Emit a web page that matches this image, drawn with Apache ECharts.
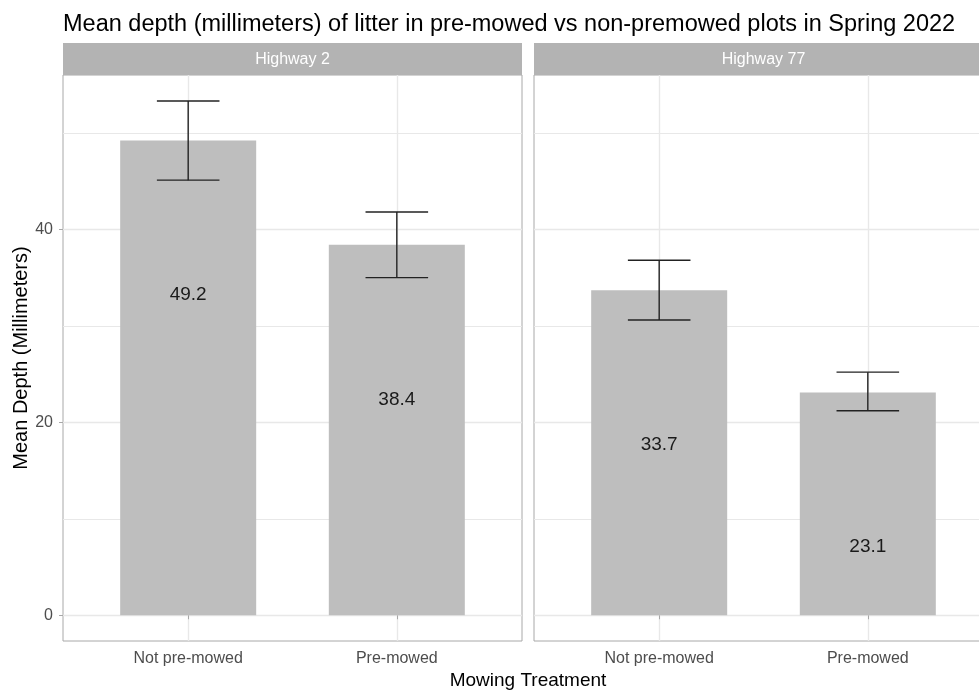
<!DOCTYPE html>
<html>
<head>
<meta charset="utf-8">
<script src="https://cdn.jsdelivr.net/npm/echarts@6/dist/echarts.min.js"></script>
<style>
  html, body { margin: 0; padding: 0; background: #fff; }
  #chart { width: 979px; height: 692px; }
</style>
</head>
<body>
<div id="chart"></div>
<script>
// Data
const panels = ['Highway 2', 'Highway 77'];
const treatments = ['Not pre-mowed', 'Pre-mowed'];
const hwy2Mean = [49.2, 38.4];
const hwy2Lower = [45.1, 35.0];
const hwy2Upper = [53.3, 41.8];
const hwy77Mean = [33.7, 23.1];
const hwy77Lower = [30.6, 21.2];
const hwy77Upper = [36.8, 25.2];
const yMajorTicks = [0, 20, 40];
const yMinorTicks = [10, 30, 50];

const font = 'Liberation Sans, Arial, sans-serif';
const borderColor = '#a8a8a8';
const gridColor = '#e8e8e8';

const panelData = [
    { mean: hwy2Mean, lower: hwy2Lower, upper: hwy2Upper },
    { mean: hwy77Mean, lower: hwy77Lower, upper: hwy77Upper }
];

const gridLeft = [63, 534];
const gridWidth = 459;
const gridTop = 75;
const gridHeight = 566;

function renderErrorBar(params, api) {
    const x = api.value(0);
    const lo = api.coord([x, api.value(1)]);
    const hi = api.coord([x, api.value(2)]);
    const half = api.size([0.3, 0])[0] / 2;
    const style = { stroke: '#222', lineWidth: 1.4 };
    return {
        type: 'group',
        children: [
            { type: 'line', shape: { x1: lo[0], y1: hi[1], x2: lo[0], y2: lo[1] }, style: style },
            { type: 'line', shape: { x1: lo[0] - half, y1: hi[1], x2: lo[0] + half, y2: hi[1] }, style: style },
            { type: 'line', shape: { x1: lo[0] - half, y1: lo[1], x2: lo[0] + half, y2: lo[1] }, style: style }
        ]
    };
}

let grids = [];
let xAxes = [];
let yAxes = [];
let series = [];
let graphics = [];

for (let i = 0; i < panels.length; i++) {
    grids.push({
        left: gridLeft[i], top: gridTop, width: gridWidth, height: gridHeight,
        outerBoundsMode: 'none',
        containLabel: false,
        show: true, borderColor: borderColor, borderWidth: 1,
        backgroundColor: 'transparent'
    });

    xAxes.push({
        type: 'value', gridIndex: i, min: 0.4, max: 2.6,
        axisLine: { show: false },
        axisTick: { show: true, customValues: [1, 2], length: 4, lineStyle: { color: borderColor } },
        axisLabel: {
            customValues: [1, 2],
            formatter: v => treatments[Math.round(v) - 1],
            fontSize: 16, color: '#4d4d4d', fontFamily: font, margin: 10
        },
        splitLine: { show: true, lineStyle: { color: gridColor, width: 1.4 } }
    });

    // major ticks / labels
    yAxes.push({
        type: 'value', gridIndex: i, min: -2.67, max: 56.0, position: 'left',
        axisLine: { show: false },
        axisTick: { show: i === 0, customValues: yMajorTicks, length: 4, lineStyle: { color: borderColor } },
        axisLabel: { show: i === 0, customValues: yMajorTicks, fontSize: 16, color: '#4d4d4d', fontFamily: font, margin: 10 },
        splitLine: { show: true, lineStyle: { color: gridColor, width: 1.4 } },
        name: i === 0 ? 'Mean Depth (Millimeters)' : '',
        nameLocation: 'middle',
        nameGap: 30,
        nameTextStyle: { fontSize: 20, color: '#000', fontFamily: font }
    });
    // minor grid lines
    yAxes.push({
        type: 'value', gridIndex: i, min: -2.67, max: 56.0, position: 'left',
        axisLine: { show: false },
        axisTick: { show: false, customValues: yMinorTicks },
        axisLabel: { show: false, customValues: yMinorTicks },
        splitLine: { show: true, lineStyle: { color: gridColor, width: 1 } }
    });

    const d = panelData[i];
    series.push({
        name: panels[i],
        type: 'bar',
        xAxisIndex: i,
        yAxisIndex: i * 2,
        barWidth: 136,
        data: d.mean.map((v, k) => [k + 1, v]),
        itemStyle: { color: '#bebebe' },
        label: {
            show: true,
            position: 'insideTop',
            distance: 5,
            offset: [0, 140],
            formatter: p => p.value[1].toFixed(1),
            fontSize: 19, color: '#1a1a1a', fontFamily: font
        },
        silent: true,
        z: 2
    });
    series.push({
        name: panels[i] + ' error',
        type: 'custom',
        xAxisIndex: i,
        yAxisIndex: i * 2,
        renderItem: renderErrorBar,
        encode: { x: 0, y: [1, 2] },
        data: d.mean.map((v, k) => [k + 1, d.lower[k], d.upper[k]]),
        silent: true,
        z: 3
    });

    // facet strip
    graphics.push({
        type: 'rect',
        shape: { x: gridLeft[i], y: 43, width: gridWidth, height: 32 },
        style: { fill: '#b3b3b3' },
        silent: true
    });
    graphics.push({
        type: 'text',
        x: gridLeft[i] + gridWidth / 2,
        y: 60,
        style: {
            text: panels[i], fill: '#fff', fontSize: 16, fontFamily: font,
            align: 'center', verticalAlign: 'middle'
        },
        silent: true
    });
}

graphics.push({
    type: 'text',
    x: 528,
    y: 681,
    style: {
        text: 'Mowing Treatment', fill: '#000', fontSize: 19, fontFamily: font,
        align: 'center', verticalAlign: 'middle'
    },
    silent: true
});

const myChart = echarts.init(document.getElementById('chart'));
const option = {
    backgroundColor: '#fff',
    animation: false,
    textStyle: { fontFamily: font },
    title: {
        text: 'Mean depth (millimeters) of litter in pre-mowed vs non-premowed plots in Spring 2022',
        left: 58,
        top: 8,
        textStyle: { fontSize: 23.5, fontWeight: 'normal', color: '#000', fontFamily: font }
    },
    grid: grids,
    xAxis: xAxes,
    yAxis: yAxes,
    graphic: graphics,
    series: series
};
myChart.setOption(option);
</script>
</body>
</html>
